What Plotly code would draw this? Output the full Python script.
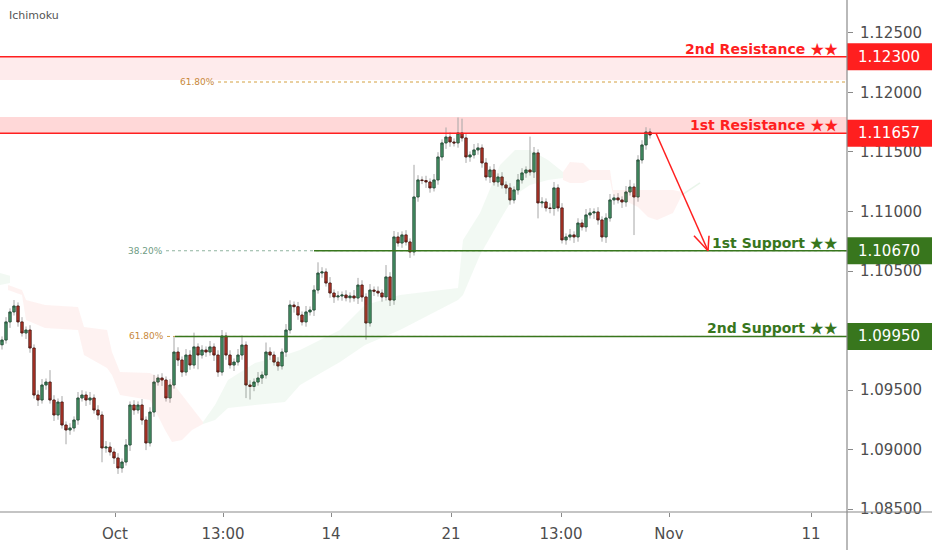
import plotly.graph_objects as go

# ---------------- data ----------------
closes = [
    1.09920, 1.10072, 1.10156, 1.10206, 1.10072, 1.09979, 1.10004, 1.09853, 1.09458, 1.09416,
    1.09542, 1.09567, 1.09416, 1.09290, 1.09399, 1.09206, 1.09164, 1.09181, 1.09248, 1.09433,
    1.09458, 1.09416, 1.09433, 1.09332, 1.09290, 1.09013, 1.09021, 1.08979, 1.08929, 1.08845,
    1.08895, 1.09038, 1.09374, 1.09332, 1.09374, 1.09248, 1.09055, 1.09315, 1.09567, 1.09601,
    1.09584, 1.09433, 1.09542, 1.09819, 1.09752, 1.09651, 1.09794, 1.09710, 1.09862, 1.09794,
    1.09836, 1.09819, 1.09862, 1.09794, 1.09651, 1.09954, 1.09794, 1.09710, 1.09735, 1.09794,
    1.09878, 1.09542, 1.09530, 1.09567, 1.09601, 1.09626, 1.09819, 1.09794, 1.09735, 1.09702,
    1.09819, 1.10004, 1.10214, 1.10200, 1.10130, 1.10072, 1.10156, 1.10172, 1.10340, 1.10483,
    1.10492, 1.10399, 1.10315, 1.10282, 1.10290, 1.10298, 1.10275, 1.10290, 1.10273, 1.10382,
    1.10282, 1.10063, 1.10340, 1.10330, 1.10315, 1.10282, 1.10450, 1.10256, 1.10786, 1.10735,
    1.10803, 1.10744, 1.10660, 1.11122, 1.11265, 1.11260, 1.11248, 1.11198, 1.11265, 1.11458,
    1.11576, 1.11626, 1.11584, 1.11576, 1.11660, 1.11618, 1.11458, 1.11475, 1.11517, 1.11534,
    1.11408, 1.11290, 1.11349, 1.11248, 1.11290, 1.11223, 1.11198, 1.11097, 1.11181, 1.11265,
    1.11324, 1.11349, 1.11332, 1.11492, 1.11072, 1.11080, 1.11030, 1.11025, 1.11198, 1.11030,
    1.10761, 1.10786, 1.10803, 1.10786, 1.10903, 1.10870, 1.10971, 1.10988, 1.10996, 1.10929,
    1.10786, 1.10945, 1.11097, 1.11114, 1.11097, 1.11080, 1.11164, 1.11206, 1.11122, 1.11433,
    1.11559, 1.11668, 1.11643,
]
first_open = 1.09880

# wick lengths beyond the candle body, in pips
upper_wick_pips = [
    3, 4, 3, 5, 3, 4, 3, 4, 3, 4,
    5, 3, 10, 4, 3, 5, 3, 4, 3, 5,
    4, 3, 5, 3, 4, 3, 5, 4, 3, 4,
    3, 5, 3, 4, 3, 5, 3, 4, 6, 3,
    4, 3, 5, 13, 4, 3, 5, 4, 12, 3,
    4, 3, 5, 3, 4, 5, 3, 4, 3, 5,
    8, 3, 4, 3, 5, 3, 8, 4, 3, 4,
    3, 5, 4, 3, 4, 3, 5, 3, 4, 9,
    4, 3, 5, 3, 4, 3, 4, 3, 5, 6,
    4, 3, 5, 3, 4, 3, 10, 4, 5, 4,
    3, 4, 3, 27, 4, 3, 4, 3, 5, 4,
    3, 8, 4, 3, 13, 12, 4, 3, 5, 4,
    3, 4, 3, 5, 3, 4, 3, 4, 3, 5,
    4, 3, 28, 5, 3, 4, 3, 4, 5, 3,
    4, 3, 5, 3, 4, 3, 5, 4, 3, 4,
    3, 4, 5, 3, 4, 3, 5, 6, 3, 4,
    4, 4, 3,
]
lower_wick_pips = [
    4, 3, 5, 3, 4, 3, 5, 4, 3, 5,
    3, 4, 3, 5, 4, 3, 12, 4, 3, 4,
    3, 5, 4, 3, 4, 12, 4, 3, 5, 5,
    4, 3, 5, 4, 3, 4, 6, 3, 4, 3,
    5, 3, 4, 3, 5, 4, 3, 4, 3, 12,
    3, 4, 3, 5, 4, 3, 4, 3, 5, 3,
    4, 11, 11, 4, 3, 5, 3, 4, 3, 4,
    3, 4, 3, 5, 4, 3, 4, 3, 5, 3,
    4, 3, 4, 5, 3, 4, 3, 4, 3, 5,
    4, 14, 3, 4, 3, 4, 3, 5, 4, 3,
    4, 3, 5, 3, 4, 3, 5, 4, 3, 4,
    3, 5, 4, 3, 4, 3, 5, 4, 3, 4,
    4, 3, 5, 3, 4, 3, 5, 4, 3, 4,
    3, 4, 3, 5, 13, 4, 3, 4, 6, 3,
    3, 4, 3, 5, 4, 3, 4, 3, 5, 4,
    4, 5, 3, 4, 3, 5, 4, 3, 32, 4,
    3, 4, 3,
]

# Ichimoku cloud segments (bar index, upper span, lower span)
cloud_green0_x = [-0.5, 2.0]
cloud_green0_hi = [1.10483, 1.10460]
cloud_green0_lo = [1.10382, 1.10400]

cloud_red1_x = [1.5, 5, 6, 10.75, 19, 20.5, 26.25, 27.5, 29.5, 37, 40.75, 42.5, 45, 47.5, 50.25]
cloud_red1_hi = [1.10382, 1.10340, 1.10256, 1.10214, 1.10198, 1.10030, 1.10004, 1.09819, 1.09651,
                 1.09643, 1.09584, 1.09567, 1.09458, 1.09349, 1.09231]
cloud_red1_lo = [1.10340, 1.10298, 1.10088, 1.10021, 1.10004, 1.09794, 1.09685, 1.09626, 1.09458,
                 1.09416, 1.09164, 1.09063, 1.09080, 1.09164, 1.09214]

cloud_green1_x = [50.25, 53.25, 56.5, 63.25, 70.75, 74.5, 84.5, 90.75, 99.5, 114, 115.25, 119.5,
                  124.5, 128.25, 132, 136.5, 140.25]
cloud_green1_hi = [1.09231, 1.09374, 1.09584, 1.09727, 1.09794, 1.09836, 1.10004, 1.10214, 1.10298,
                   1.10357, 1.10761, 1.10988, 1.11391, 1.11517, 1.11517, 1.11433, 1.11332]
cloud_green1_lo = [1.09214, 1.09248, 1.09349, 1.09374, 1.09399, 1.09542, 1.09735, 1.09878, 1.10004,
                   1.10256, 1.10298, 1.10634, 1.10929, 1.11139, 1.11223, 1.11265, 1.11282]

cloud_red2_x = [140.25, 142, 145.25, 147, 152, 152.75, 159, 161.5, 163.75, 167.75, 170]
cloud_red2_hi = [1.11332, 1.11416, 1.11408, 1.11349, 1.11349, 1.11181, 1.11181, 1.11181, 1.11181,
                 1.11181, 1.11164]
cloud_red2_lo = [1.11265, 1.11240, 1.11240, 1.11265, 1.11265, 1.11139, 1.11038, 1.10954, 1.10929,
                 1.10988, 1.11139]

cloud_green2_x = [170, 174.5]
cloud_green2_y = [1.11140, 1.11240]

# support / resistance levels
level_names = ["2nd Resistance", "1st Resistance", "1st Support", "2nd Support"]
level_stars = "★★"
level_values = [1.12300, 1.11657, 1.10670, 1.09950]
level_kinds = ["res", "res", "sup", "sup"]
level_start_bar = [None, None, 78, 43.25]

zone_r2 = (1.12105, 1.12300)
zone_r1 = (1.11657, 1.11794)

fib_labels = ["61.80%", "38.20%", "61.80%"]
fib_values = [1.12088, 1.10670, 1.09950]
fib_start_bar = [54, 41, 41.25]

x_tick_pos = [28.25, 55.25, 82.25, 112.25, 139.75, 166.75, 202.25]
x_tick_text = ["Oct", "13:00", "14", "21", "13:00", "Nov", "11"]
y_tick_vals = [1.085, 1.090, 1.095, 1.105, 1.110, 1.115, 1.120, 1.125]

# ---------------- build ----------------
n = len(closes)
bars = list(range(n))
opens = [first_open] + closes[:-1]
highs = [max(o, c) + u * 0.0001 for o, c, u in zip(opens, closes, upper_wick_pips)]
lows = [min(o, c) - d * 0.0001 for o, c, d in zip(opens, closes, lower_wick_pips)]
body_hi = [max(o, c) for o, c in zip(opens, closes)]
body_lo = [min(o, c) for o, c in zip(opens, closes)]

RED = "#ff1f1f"
GREEN = "#38761d"
FONT = "DejaVu Sans"

fig = go.Figure()

def cloud(xs, hi, lo, color):
    fig.add_trace(go.Scatter(
        x=list(xs) + list(xs)[::-1], y=list(hi) + list(lo)[::-1],
        fill="toself", fillcolor=color, mode="lines", line=dict(width=0),
        hoverinfo="skip", showlegend=False))

GREEN_CLOUD = "rgba(76,175,80,0.07)"
RED_CLOUD = "rgba(244,67,54,0.07)"
cloud(cloud_green0_x, cloud_green0_hi, cloud_green0_lo, GREEN_CLOUD)
cloud(cloud_red1_x, cloud_red1_hi, cloud_red1_lo, RED_CLOUD)
cloud(cloud_green1_x, cloud_green1_hi, cloud_green1_lo, GREEN_CLOUD)
cloud(cloud_red2_x, cloud_red2_hi, cloud_red2_lo, RED_CLOUD)
fig.add_trace(go.Scatter(x=cloud_green2_x, y=cloud_green2_y, mode="lines",
                         line=dict(color="rgba(76,175,80,0.12)", width=1.5),
                         hoverinfo="skip", showlegend=False))

# zones (drawn below candles)
for lo_, hi_, col in [(zone_r2[0], zone_r2[1], "rgba(242,54,69,0.10)"),
                      (zone_r1[0], zone_r1[1], "rgba(255,60,60,0.20)")]:
    fig.add_shape(type="rect", xref="paper", x0=0, x1=1, yref="y", y0=lo_, y1=hi_,
                  fillcolor=col, line=dict(width=0), layer="below")

# fib dotted lines + labels
fib_colors = ["#d4a040", "#8fb39f", "#d4a040"]
fib_text_colors = ["#c8883a", "#6f9c84", "#c8883a"]
for lab, val, xs, lc, tc in zip(fib_labels, fib_values, fib_start_bar, fib_colors, fib_text_colors):
    fig.add_shape(type="line", xref="x", x0=xs, x1=211.25, yref="y", y0=val, y1=val,
                  line=dict(color=lc, width=1, dash="dot"), layer="below")
    fig.add_annotation(x=xs, y=val, xref="x", yref="y", text=lab, showarrow=False,
                       xanchor="right", yanchor="middle", xshift=-1,
                       font=dict(family=FONT, size=9, color=tc))

# wicks (grey) then bodies
fig.add_trace(go.Candlestick(
    x=bars, open=opens, high=highs, low=lows, close=closes,
    increasing=dict(line=dict(color="#a6a6a6", width=1), fillcolor="#a6a6a6"),
    decreasing=dict(line=dict(color="#a6a6a6", width=1), fillcolor="#a6a6a6"),
    whiskerwidth=0, hoverinfo="skip", showlegend=False))
fig.add_trace(go.Candlestick(
    x=bars, open=opens, high=body_hi, low=body_lo, close=closes,
    increasing=dict(line=dict(color="#1f4a33", width=0.8), fillcolor="#4b9a6c"),
    decreasing=dict(line=dict(color="#4a1510", width=0.8), fillcolor="#c0392b"),
    whiskerwidth=0, hoverinfo="skip", showlegend=False))

# level lines, labels and price boxes
for name, val, kind, start in zip(level_names, level_values, level_kinds, level_start_bar):
    col = RED if kind == "res" else GREEN
    if start is None:
        fig.add_shape(type="line", xref="paper", x0=0, x1=1, yref="y", y0=val, y1=val,
                      line=dict(color=col, width=1.6))
    else:
        fig.add_shape(type="line", xref="x", x0=start, x1=211.25, yref="y", y0=val, y1=val,
                      line=dict(color=col, width=1.6))
    label = ('<b>%s <span style="font-family:Noto Sans CJK JP;font-size:14px">%s</span></b>'
             % (name, level_stars))
    fig.add_annotation(xref="paper", x=840 / 847, y=val, yref="y", text=label,
                       showarrow=False, xanchor="right", yanchor="middle", yshift=9,
                       font=dict(family=FONT, size=14, color=col))
    fig.add_shape(type="rect", xref="paper", x0=1.0, x1=932 / 847, yref="y",
                  y0=val - 0.00114, y1=val + 0.00114, fillcolor=col, line=dict(width=0),
                  layer="above")
    fig.add_annotation(xref="paper", x=889 / 847, y=val, yref="y", text="%.5f" % val,
                       showarrow=False, xanchor="center", yanchor="middle",
                       font=dict(family=FONT, size=15, color="white"))

# projected move arrow: from last bar at R1 down to S1
arrow_start = (n + 0.5, level_values[1])
arrow_end = (176.5, level_values[2])
fig.add_shape(type="line", xref="x", yref="y", x0=arrow_start[0], y0=arrow_start[1],
              x1=arrow_end[0], y1=arrow_end[1], line=dict(color=RED, width=1.5))
for dx, dy in [(-3.5, 0.00126), (0.25, 0.00126)]:
    fig.add_shape(type="line", xref="x", yref="y", x0=arrow_end[0], y0=arrow_end[1],
                  x1=arrow_end[0] + dx, y1=arrow_end[1] + dy, line=dict(color=RED, width=1.5))

# axis frame lines (extend beyond plot like the reference)
fig.add_shape(type="line", xref="paper", yref="paper", x0=0, x1=932 / 847, y0=0, y1=0,
              line=dict(color="#8a8a8a", width=1.2), layer="above")
fig.add_shape(type="line", xref="paper", yref="paper", x0=1, x1=1, y0=-38 / 512, y1=1,
              line=dict(color="#8a8a8a", width=1.2), layer="above")

fig.add_annotation(xref="paper", yref="paper", x=7 / 847, y=1 - 15 / 512, text="Ichimoku",
                   showarrow=False, xanchor="left", yanchor="middle",
                   font=dict(family=FONT, size=11, color="#555555"))

fig.update_layout(
    width=932, height=550,
    margin=dict(l=0, r=85, t=0, b=38),
    paper_bgcolor="white", plot_bgcolor="white",
    showlegend=False, boxgap=0.2,
    xaxis=dict(range=[-0.5, 211.25], showgrid=False, zeroline=False, showline=False,
               rangeslider=dict(visible=False), ticks="outside", ticklen=4, tickcolor="#8a8a8a",
               tickvals=x_tick_pos, ticktext=x_tick_text, ticklabelstandoff=4,
               tickfont=dict(family=FONT, size=15, color="#4d4d4d"), fixedrange=True),
    yaxis=dict(range=[1.08475, 1.12777], side="right", showgrid=False, zeroline=False,
               showline=False, ticks="outside", ticklen=5, tickcolor="#8a8a8a",
               tickvals=y_tick_vals, tickformat=".5f", ticklabelstandoff=4,
               tickfont=dict(family=FONT, size=15, color="#4d4d4d"), fixedrange=True),
)

fig.write_html("out.html", config={"displayModeBar": False},
               post_script="document.body.style.margin='0';")
